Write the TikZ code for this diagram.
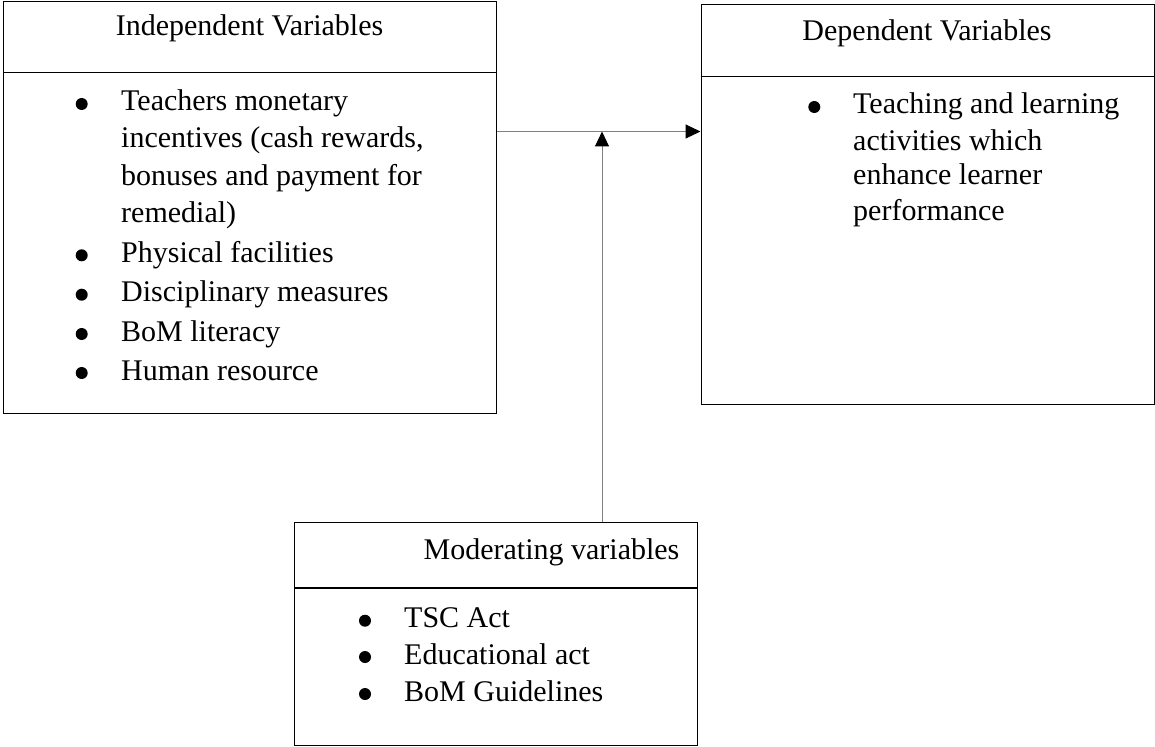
\documentclass[tikz,border=0pt]{standalone}
\usepackage{fontspec}
\setmainfont{Liberation Serif}
\usetikzlibrary{arrows.meta}
\begin{document}
\begin{tikzpicture}[x=1pt,y=-1pt,
  box/.style={draw=black,line width=1.2pt,rectangle,inner sep=0pt,anchor=north west},
  divider/.style={draw=black,line width=1.2pt},
  txt/.style={inner sep=0pt,anchor=base west,font=\fontsize{30}{36}\selectfont},
  ttl/.style={inner sep=0pt,anchor=base,font=\fontsize{30}{36}\selectfont},
  dot/.style={circle,fill=black,draw=none,inner sep=0pt,minimum size=12pt},
  conn/.style={draw=black!50,line width=1pt},
  tip/.style={-{Triangle[length=15pt,width=14pt,color=black]}}]
\useasboundingbox (0,0) rectangle (1155,746);
% boxes
\node[box,minimum width=493pt,minimum height=412pt] (indep) at (3,1) {};
\node[box,minimum width=453.5pt,minimum height=400pt] (dep) at (700.5,4) {};
\node[box,minimum width=403pt,minimum height=223pt] (mod) at (294,522) {};
% dividers
\coordinate (dl) at (0,72.7);
\coordinate (dr) at (0,76.7);
\coordinate (dm) at (0,588);
\draw[divider] (indep.west |- dl) -- (indep.east |- dl);
\draw[divider] (dep.west |- dr) -- (dep.east |- dr);
\draw[divider] (mod.west |- dm) -- (mod.east |- dm);
% titles
\node[ttl] (tindep) at (249.5,36) {Independent Variables};
\node[ttl] (tdep) at (927,40.5) {Dependent Variables};
\node[ttl] (tmod) at (551.5,559) {Moderating variables};
% left list
\node[dot] (b1) at (81.7,104) {};
\node[txt] (l1) at (121,111) {Teachers monetary};
\node[txt] (l2) at (121,147.7) {incentives (cash rewards,};
\node[txt] (l3) at (121,185.3) {bonuses and payment for};
\node[txt] (l4) at (121,222.3) {remedial)};
\node[dot] (b2) at (81.7,255.3) {};
\node[txt] (l5) at (121,262.3) {Physical facilities};
\node[dot] (b3) at (81.7,294.7) {};
\node[txt] (l6) at (121,301.7) {Disciplinary measures};
\node[dot] (b4) at (81.7,334) {};
\node[txt] (l7) at (121,341) {BoM literacy};
\node[dot] (b5) at (81.7,373) {};
\node[txt] (l8) at (121,380) {Human resource};
% right list
\node[dot] (rb1) at (814.3,107) {};
\node[txt] (r1) at (853,114) {Teaching and learning};
\node[txt] (r2) at (853,150) {activities which};
\node[txt] (r3) at (853,185) {enhance learner};
\node[txt] (r4) at (853,220) {performance};
% bottom list
\node[dot] (mb1) at (365,620.7) {};
\node[txt] (m1) at (404,627.7) {TSC Act};
\node[dot] (mb2) at (365,657) {};
\node[txt] (m2) at (404,664) {Educational act};
\node[dot] (mb3) at (365,694) {};
\node[txt] (m3) at (404,701) {BoM Guidelines};
% connectors
\coordinate (hy) at (0,131.5);
\coordinate (junction) at (602,131.5);
\draw[conn,tip] (indep.east |- hy) -- (dep.west |- hy);
\draw[conn,tip] (mod.north -| junction) -- (junction);
\end{tikzpicture}
\end{document}
